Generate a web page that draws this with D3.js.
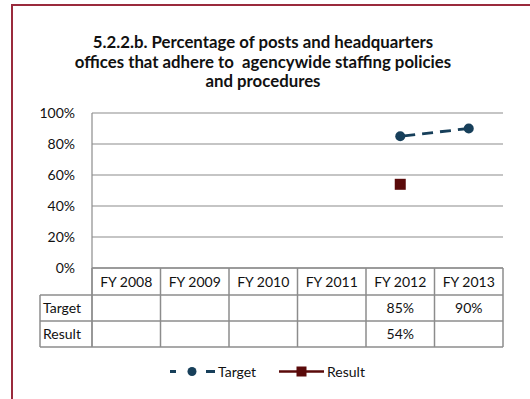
<!DOCTYPE html>
<html><head><meta charset="utf-8">
<script src="https://cdn.jsdelivr.net/npm/d3@7"></script>
<style>
html,body{margin:0;padding:0;background:#fff;}
svg{display:block;font-family:Lato, "Open Sans", sans-serif;}
</style></head>
<body>
<script>
const categories = ["FY 2008","FY 2009","FY 2010","FY 2011","FY 2012","FY 2013"];
const targetValues = [null,null,null,null,0.85,0.90];
const resultValues = [null,null,null,null,0.54,null];
const yTicks = [0,0.2,0.4,0.6,0.8,1.0];
const titleLines = ["5.2.2.b. Percentage of posts and headquarters","offices that adhere to  agencywide staffing policies","and procedures"];
const seriesNames = ["Target","Result"];

const W=530,H=399;
const svg=d3.select("body").append("svg").attr("width",W).attr("height",H);
svg.append("rect").attr("width",W).attr("height",H).attr("fill","#fff");
// frame
svg.append("rect").attr("x",12).attr("y",5).attr("width",W).attr("height",H)
  .attr("fill","none").attr("stroke","#9a2a3c").attr("stroke-width",2);

// title
svg.append("g").selectAll("text").data(titleLines).join("text")
  .attr("x",263).attr("y",(d,i)=>48+i*19.5).attr("text-anchor","middle")
  .attr("font-weight","bold").attr("font-size",16.8).attr("fill","#111")
  .style("white-space","pre").text(d=>d);

const x=d3.scaleBand().domain(categories).range([92,503]);
const y=d3.scaleLinear().domain([0,1]).range([268,113]);
const fmt=d3.format(".0%");
const grid="#8c8c8c";
const fs=14;

// gridlines
svg.append("g").selectAll("line").data(yTicks).join("line")
  .attr("x1",92).attr("x2",503).attr("y1",d=>y(d)).attr("y2",d=>y(d))
  .attr("stroke",grid).attr("stroke-width",1.2);
// y axis
const yAxis=d3.axisLeft(y).tickValues(yTicks).tickFormat(fmt).tickSize(0).tickPadding(17);
const ga=svg.append("g").attr("transform","translate(92,0)").call(yAxis);
ga.select(".domain").remove();
ga.selectAll("text").attr("font-size",fs).attr("fill","#111").attr("font-family","Lato, sans-serif");
svg.append("line").attr("x1",92).attr("x2",92).attr("y1",y(1)).attr("y2",347).attr("stroke",grid).attr("stroke-width",1.2);

// data table
const rowTop=[y(0),295,321,347];
const tg=svg.append("g");
const bw=x.bandwidth();
tg.append("line").attr("x1",92).attr("x2",503).attr("y1",y(0)).attr("y2",y(0)).attr("stroke",grid).attr("stroke-width",1.5);
[295,321,347].forEach(v=>tg.append("line").attr("x1",40).attr("x2",503).attr("y1",v).attr("y2",v).attr("stroke",grid).attr("stroke-width",1.5));
categories.forEach(c=>tg.append("line").attr("x1",x(c)+bw).attr("x2",x(c)+bw).attr("y1",y(0)).attr("y2",347).attr("stroke",grid).attr("stroke-width",1.5));
tg.append("line").attr("x1",40).attr("x2",40).attr("y1",295).attr("y2",347).attr("stroke",grid).attr("stroke-width",1.5);
tg.append("line").attr("x1",92).attr("x2",92).attr("y1",y(0)).attr("y2",347).attr("stroke",grid).attr("stroke-width",1.5);
tg.selectAll("text.h").data(categories).join("text").attr("class","h")
  .attr("x",d=>x(d)+bw/2).attr("y",287).attr("text-anchor","middle")
  .attr("font-size",fs).attr("fill","#111").text(d=>d);
const rows=[targetValues,resultValues];
rows.forEach((vals,ri)=>{
  const cy=(rowTop[ri+1]+rowTop[ri+2])/2+5;
  tg.append("text").attr("x",43).attr("y",cy).attr("font-size",fs).attr("fill","#111").text(seriesNames[ri]);
  tg.selectAll(null).data(categories.map((c,i)=>({c,v:vals[i]})).filter(d=>d.v!=null)).join("text")
    .attr("x",d=>x(d.c)+bw/2).attr("y",cy).attr("text-anchor","middle")
    .attr("font-size",fs).attr("fill","#111").text(d=>fmt(d.v));
});

// series
const tColor="#173f5a", rColor="#5a0a0a";
const tData=categories.map((c,i)=>({c,v:targetValues[i]})).filter(d=>d.v!=null);
const rData=categories.map((c,i)=>({c,v:resultValues[i]})).filter(d=>d.v!=null);
const line=d3.line().x(d=>x(d.c)+bw/2).y(d=>y(d.v));
svg.append("path").attr("d",line(tData)).attr("fill","none").attr("stroke",tColor)
  .attr("stroke-width",2.8).attr("stroke-dasharray","11,7").attr("stroke-dashoffset",-4);
svg.selectAll("circle.t").data(tData).join("circle").attr("class","t")
  .attr("cx",d=>x(d.c)+bw/2).attr("cy",d=>y(d.v)).attr("r",5).attr("fill",tColor);
if(rData.length>1) svg.append("path").attr("d",line(rData)).attr("fill","none").attr("stroke",rColor).attr("stroke-width",2.5);
svg.selectAll("rect.r").data(rData).join("rect").attr("class","r")
  .attr("x",d=>x(d.c)+bw/2-5.5).attr("y",d=>y(d.v)-5.5).attr("width",11).attr("height",11).attr("fill",rColor);

// legend
const ly=371.5;
const lg=svg.append("g");
lg.append("line").attr("x1",170).attr("x2",215).attr("y1",ly).attr("y2",ly).attr("stroke",tColor)
  .attr("stroke-width",2.8).attr("stroke-dasharray","6,30,9,100");
lg.append("circle").attr("cx",192).attr("cy",ly).attr("r",4.5).attr("fill",tColor);
lg.append("text").attr("x",218).attr("y",ly+5).attr("font-size",fs).attr("fill","#111").text(seriesNames[0]);
lg.append("line").attr("x1",279).attr("x2",324).attr("y1",ly).attr("y2",ly).attr("stroke",rColor).attr("stroke-width",2.5);
lg.append("rect").attr("x",296.5).attr("y",ly-5).attr("width",10).attr("height",10).attr("fill",rColor);
lg.append("text").attr("x",327).attr("y",ly+5).attr("font-size",fs).attr("fill","#111").text(seriesNames[1]);
</script>
</body></html>
